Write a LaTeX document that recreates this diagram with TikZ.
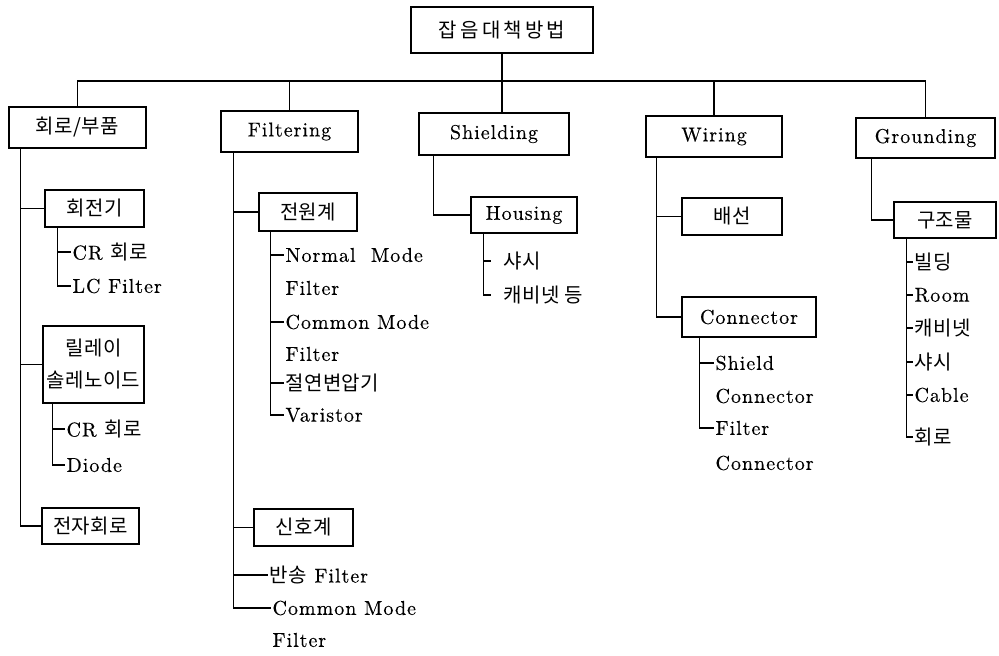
\documentclass[tikz,border=0pt]{standalone}
\usepackage{fontspec}
\setmainfont{lmroman10-regular.otf}[LetterSpace=5, FakeBold=0.35]
\newfontfamily\kr{Noto Sans CJK KR}[LetterSpace=2]
\usetikzlibrary{positioning}

\begin{document}
\begin{tikzpicture}[x=1pt, y=-1pt, line width=1.1pt,
   font=\fontsize{20}{32}\selectfont,
   box/.style={draw, align=center, inner sep=1pt},
   item/.style={anchor=west, inner sep=1pt},
   gapitem/.style={item, inner xsep=12pt}]
  \useasboundingbox (0,0) rectangle (999,656);

  % root and first level
  \node[box, minimum width=182, minimum height=46] (root) at (502,30) {\kr\addfontfeatures{LetterSpace=16}잡음대책방법};
  \node[box, minimum width=137, minimum height=41] (circ) at (77.5,127.5) {\kr 회로/부품};
  \node[box, minimum width=137, minimum height=41] (filt) at (289.5,131.5) {Filtering};
  \node[box, minimum width=150, minimum height=42] (shld) at (494,134) {Shielding};
  \node[box, minimum width=136, minimum height=41] (wire) at (714,136.5) {Wiring};
  \node[box, minimum width=139, minimum height=40] (grnd) at (925.5,138) {Grounding};

  \coordinate (bus) at (0,81);
  \draw (circ.north) |- (bus -| grnd.north) -- (grnd.north);
  \draw (filt.north) -- (filt.north |- bus);
  \draw (wire.north) -- (wire.north |- bus);
  \draw (root.south) -- (root.south |- shld.north);

  % circuit / parts
  \coordinate (circT) at ([xshift=12]circ.south west);
  \node[box, minimum width=99, minimum height=37] (rot) at (94.5,208.5) {\kr 회전기};
  \node[box, minimum width=101, minimum height=77] (relay) at (93.5,364.5) {{\kr 릴레이}\\{\kr 솔레노이드}};
  \node[box, minimum width=97, minimum height=36] (elec) at (90.5,526) {\kr 전자회로};
  \draw (circT) |- (rot.west);
  \draw (circT) |- (relay.west);
  \draw (circT) |- (elec.west);

  \coordinate (rotT) at ([xshift=13]rot.south west);
  \node[item] (rotA) at (71,252) {CR {\kr 회로}};
  \node[item] (rotB) at (71,286) {LC Filter};
  \draw (rotT) |- (rotA.west);
  \draw (rotT) |- (rotB.west);

  \coordinate (relT) at ([xshift=10]relay.south west);
  \node[item] (relA) at (65,429) {CR {\kr 회로}};
  \node[item] (relB) at (65,465) {Diode};
  \draw (relT) |- (relA.west);
  \draw (relT) |- (relB.west);

  % filtering
  \coordinate (filtT) at ([xshift=13]filt.south west);
  \node[box, minimum width=98, minimum height=38] (pwr) at (308,212) {\kr 전원계};
  \node[box, minimum width=99, minimum height=37] (sig) at (303.5,527.5) {\kr 신호계};

  \coordinate (pwrT) at ([xshift=12]pwr.south west);
  \node[item] (pwrA) at (284,255) {Normal~ Mode};
  \node[item] (pwrA2) at (284,288) {Filter};
  \node[item] (pwrB) at (284,322) {Common Mode};
  \node[item] (pwrB2) at (284,354) {Filter};
  \node[item] (pwrC) at (284,383) {\kr 절연변압기};
  \node[item] (pwrD) at (284,415) {Varistor};
  \draw (pwrT) |- (pwrA.west);
  \draw (pwrT) |- (pwrB.west);
  \draw (pwrT) |- (pwrC.west);
  \draw (pwrT) |- (pwrD.west);

  \node[item] (sigA) at (268,575) {{\kr 반송} Filter};
  \node[item] (sigB) at (271,608) {Common Mode};
  \node[item] (sigB2) at (271,640) {Filter};
  \draw (filtT) |- (pwr.west);
  \draw (filtT) |- (sig.west);
  \draw (filtT) |- (sigA.west);
  \draw (filtT) |- (sigB.west);

  % shielding
  \coordinate (shldT) at ([xshift=15]shld.south west);
  \node[box, minimum width=106, minimum height=36] (hous) at (524,215) {Housing};
  \draw (shldT) |- (hous.west);
  \coordinate (housT) at ([xshift=13]hous.south west);
  \node[gapitem] (housA) at (491,261) {\kr 샤시};
  \node[gapitem] (housB) at (491,295) {\kr 캐비넷 등};
  \draw (housT) |- (housA.west);
  \draw (housT) |- (housB.west);

  % wiring
  \coordinate (wireT) at ([xshift=11]wire.south west);
  \node[box, minimum width=100, minimum height=37] (wbox) at (732,216.5) {\kr 배선};
  \node[box, minimum width=134, minimum height=40] (conn) at (749,317) {Connector};
  \draw (wireT) |- (wbox.west);
  \draw (wireT) |- (conn.west);
  \coordinate (connT) at ([xshift=18]conn.south west);
  \node[item] (connA) at (714,363) {Shield};
  \node[item] (connA2) at (714,396) {Connector};
  \node[item] (connB) at (714,428) {Filter};
  \node[item] (connB2) at (714,463) {Connector};
  \draw (connT) |- (connA.west);
  \draw (connT) |- (connB.west);

  % grounding
  \coordinate (grndT) at ([xshift=16]grnd.south west);
  \node[box, minimum width=102, minimum height=36] (gbox) at (945,220) {\kr 구조물};
  \draw (grndT) |- (gbox.west);
  \coordinate (gboxT) at ([xshift=13]gbox.south west);
  \node[item] (gA) at (913,262) {\kr 빌딩};
  \node[item] (gB) at (913,295) {Room};
  \node[item] (gC) at (913,328) {\kr 캐비넷};
  \node[item] (gD) at (913,362) {\kr 샤시};
  \node[item] (gE) at (913,395) {Cable};
  \node[item] (gF) at (913,437) {\kr 회로};
  \draw (gboxT) |- (gA.west);
  \draw (gboxT) |- (gB.west);
  \draw (gboxT) |- (gC.west);
  \draw (gboxT) |- (gD.west);
  \draw (gboxT) |- (gE.west);
  \draw (gboxT) |- (gF.west);
\end{tikzpicture}
\end{document}
